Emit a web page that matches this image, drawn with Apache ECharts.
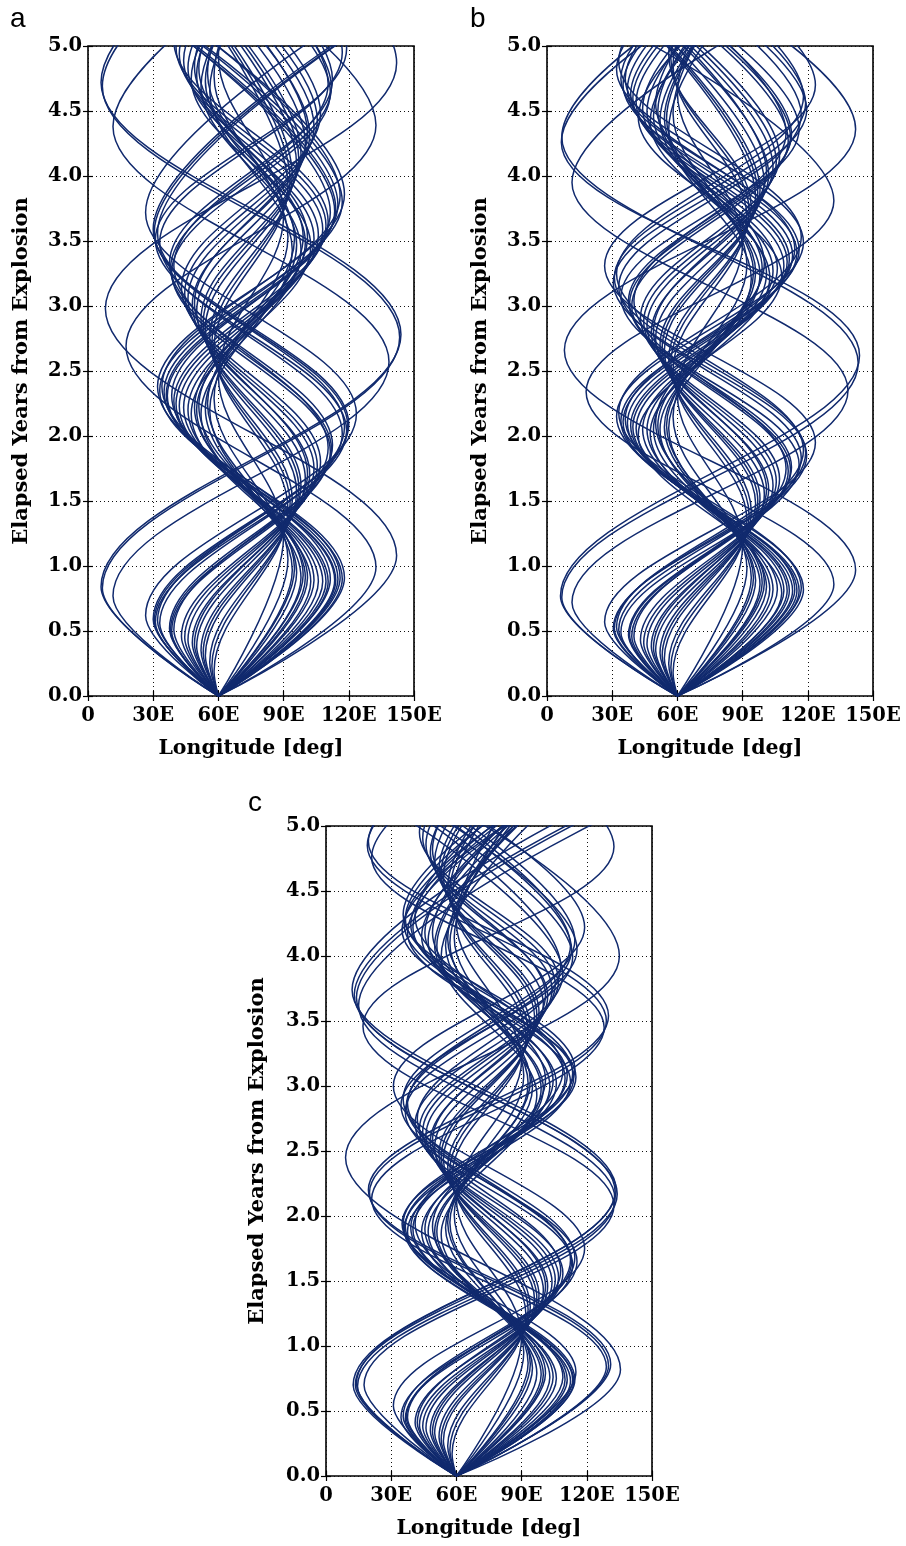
<!DOCTYPE html>
<html>
<head>
<meta charset="utf-8">
<title>Elapsed years vs longitude</title>
<script src="https://cdn.jsdelivr.net/npm/echarts@6/dist/echarts.min.js"></script>
<style>
  html, body { margin: 0; padding: 0; background: #fff; }
  #chart { width: 906px; height: 1546px; }
</style>
</head>
<body>
<div id="chart"></div>
<script>
// axis ticks
const lonTicks = [0, 30, 60, 90, 120, 150];
const lonTickLabels = ['0', '30E', '60E', '90E', '120E', '150E'];
const yearTicks = [0, 0.5, 1, 1.5, 2, 2.5, 3, 3.5, 4, 4.5, 5];
const yearTickLabels = ['0.0', '0.5', '1.0', '1.5', '2.0', '2.5', '3.0', '3.5', '4.0', '4.5', '5.0'];
const panelLetters = ['a', 'b', 'c'];

// every trajectory starts at the explosion point
const origin = [60, 0];

// turning points [lon, years] of each trajectory
const panelA = [
    [[6, 0.84], [144, 2.78], [6, 4.72], [144, 6.66]],
    [[6.6, 0.83], [143.4, 2.76], [6.6, 4.69], [143.4, 6.62]],
    [[11.5, 0.77], [138.5, 2.57], [11.5, 4.38], [138.5, 6.19]],
    [[26.5, 0.62], [123.5, 2.17], [26.5, 3.72], [123.5, 5.27]],
    [[30, 0.59], [120, 2.09], [30, 3.59], [120, 5.09]],
    [[30.5, 0.58], [119.5, 2.08], [30.5, 3.57], [119.5, 5.07]],
    [[31, 0.57], [119, 2.04], [31, 3.51], [119, 4.98], [31, 6.45]],
    [[32, 0.58], [118, 2.07], [32, 3.56], [118, 5.05]],
    [[33, 0.56], [117, 2.02], [33, 3.49], [117, 4.95], [33, 6.42]],
    [[37.5, 0.52], [112.5, 1.93], [37.5, 3.33], [112.5, 4.74], [37.5, 6.15]],
    [[38, 0.51], [112, 1.9], [38, 3.29], [112, 4.68], [38, 6.07]],
    [[38.5, 0.5], [111.5, 1.88], [38.5, 3.26], [111.5, 4.64], [38.5, 6.02]],
    [[39.5, 0.51], [110.5, 1.91], [39.5, 3.31], [110.5, 4.71], [39.5, 6.1]],
    [[43, 0.46], [107, 1.8], [43, 3.14], [107, 4.48], [43, 5.83]],
    [[44.5, 0.45], [105.5, 1.77], [44.5, 3.1], [105.5, 4.43], [44.5, 5.76]],
    [[46, 0.43], [104, 1.75], [46, 3.06], [104, 4.38], [46, 5.7]],
    [[48, 0.41], [102, 1.71], [48, 3.01], [102, 4.32], [48, 5.62]],
    [[49, 0.4], [101, 1.71], [49, 3.02], [101, 4.33], [49, 5.64]],
    [[50, 0.38], [100, 1.67], [50, 2.96], [100, 4.25], [50, 5.54]],
    [[52, 0.35], [98, 1.62], [52, 2.9], [98, 4.17], [52, 5.44]],
    [[53, 0.33], [97, 1.6], [53, 2.87], [97, 4.13], [53, 5.4]],
    [[54, 0.31], [96, 1.57], [54, 2.83], [96, 4.09], [54, 5.35]],
    [[56, 0.26], [94, 1.51], [56, 2.76], [94, 4.01], [56, 5.26]],
    [[57, 0.23], [93, 1.48], [57, 2.72], [93, 3.97], [57, 5.21]],
    [[58, 0.19], [92, 1.44], [58, 2.68], [92, 3.92], [58, 5.16]],
    [[142, 1.08], [8, 2.98], [142, 4.87], [8, 6.77]],
    [[132.5, 0.99], [17.5, 2.69], [132.5, 4.39], [17.5, 6.08]],
    [[118, 0.91], [32, 2.38], [118, 3.86], [32, 5.33]],
    [[117, 0.9], [33, 2.35], [117, 3.8], [33, 5.25]],
    [[116, 0.91], [34, 2.38], [116, 3.85], [34, 5.32]],
    [[115, 0.9], [35, 2.34], [115, 3.78], [35, 5.22]],
    [[114, 0.89], [36, 2.32], [114, 3.75], [36, 5.17]],
    [[113.5, 0.89], [36.5, 2.31], [113.5, 3.73], [36.5, 5.15]],
    [[111.5, 0.9], [38.5, 2.31], [111.5, 3.72], [38.5, 5.13]],
    [[110.5, 0.88], [39.5, 2.27], [110.5, 3.65], [39.5, 5.04], [110.5, 6.42]],
    [[109.5, 0.88], [40.5, 2.25], [109.5, 3.62], [40.5, 4.99], [109.5, 6.36]],
    [[108, 0.88], [42, 2.23], [108, 3.59], [42, 4.94], [108, 6.29]],
    [[106, 0.88], [44, 2.22], [106, 3.55], [44, 4.89], [106, 6.22]],
    [[104, 0.89], [46, 2.2], [104, 3.52], [46, 4.83], [104, 6.15]],
    [[102.5, 0.88], [47.5, 2.17], [102.5, 3.46], [47.5, 4.75], [102.5, 6.04]],
    [[101, 0.91], [49, 2.22], [101, 3.53], [49, 4.84], [101, 6.15]],
    [[100, 0.91], [50, 2.2], [100, 3.49], [50, 4.78], [100, 6.07]],
    [[99, 0.93], [51, 2.23], [99, 3.53], [51, 4.83], [99, 6.13]],
    [[98, 0.91], [52, 2.17], [98, 3.43], [52, 4.69], [98, 5.95]],
    [[96, 0.95], [54, 2.21], [96, 3.47], [54, 4.73], [96, 5.99]],
    [[95, 0.98], [55, 2.25], [95, 3.52], [55, 4.79], [95, 6.06]],
    [[94, 0.97], [56, 2.2], [94, 3.43], [56, 4.66], [94, 5.89]],
    [[92, 1.05], [58, 2.29], [92, 3.53], [58, 4.77], [92, 6.02]],
    [[90, 1.23], [60, 2.46], [90, 3.69], [60, 4.92], [90, 6.15]]
];

const panelB = [
    [[6.2, 0.77], [143.8, 2.62], [6.6, 4.26], [143.8, 6.0]],
    [[6.8, 0.76], [143.2, 2.56], [6.8, 4.3], [143.2, 6.05]],
    [[11.5, 0.72], [138.5, 2.35], [11.5, 3.95], [138.5, 5.55]],
    [[26.5, 0.57], [123.5, 1.95], [26.5, 3.31], [123.5, 4.7], [26.5, 6.1]],
    [[30.5, 0.52], [119.5, 1.85], [30.5, 3.18], [119.5, 4.51], [30.5, 5.84]],
    [[31, 0.52], [119, 1.87], [31, 3.22], [119, 4.56], [31, 5.91]],
    [[32, 0.53], [118, 1.89], [32, 3.25], [118, 4.61], [32, 5.97]],
    [[33, 0.51], [117, 1.83], [33, 3.15], [117, 4.47], [33, 5.8]],
    [[34, 0.49], [116, 1.78], [34, 3.07], [116, 4.36], [34, 5.65]],
    [[37.5, 0.47], [112.5, 1.76], [37.5, 3.04], [112.5, 4.32], [37.5, 5.6]],
    [[38, 0.47], [112, 1.74], [38, 3.02], [112, 4.3], [38, 5.57]],
    [[39, 0.46], [111, 1.73], [39, 3.0], [111, 4.27], [39, 5.54]],
    [[40, 0.46], [110, 1.75], [40, 3.04], [110, 4.33], [40, 5.62]],
    [[43, 0.43], [107, 1.67], [43, 2.91], [107, 4.15], [43, 5.39]],
    [[44.5, 0.41], [105.5, 1.65], [44.5, 2.88], [105.5, 4.11], [44.5, 5.35]],
    [[46, 0.4], [104, 1.62], [46, 2.85], [104, 4.07], [46, 5.3]],
    [[48, 0.38], [102, 1.59], [48, 2.8], [102, 4.01], [48, 5.23]],
    [[49, 0.37], [101, 1.59], [49, 2.81], [101, 4.03], [49, 5.25]],
    [[50, 0.35], [100, 1.55], [50, 2.75], [100, 3.95], [50, 5.15]],
    [[52, 0.33], [98, 1.52], [52, 2.7], [98, 3.89], [52, 5.08]],
    [[53, 0.31], [97, 1.5], [53, 2.68], [97, 3.87], [53, 5.05]],
    [[54, 0.29], [96, 1.48], [54, 2.66], [96, 3.84], [54, 5.02]],
    [[56, 0.25], [94, 1.42], [56, 2.59], [94, 3.76], [56, 4.93], [94, 6.1]],
    [[57, 0.22], [93, 1.39], [57, 2.56], [93, 3.73], [57, 4.9], [93, 6.06]],
    [[58, 0.18], [92, 1.35], [58, 2.51], [92, 3.68], [58, 4.85], [92, 6.01]],
    [[142, 0.97], [8, 2.66], [142, 4.36], [8, 6.05]],
    [[132, 0.86], [18, 2.34], [132, 3.81], [18, 5.28]],
    [[118, 0.82], [32, 2.15], [118, 3.49], [32, 4.82], [118, 6.15]],
    [[117, 0.83], [33, 2.18], [117, 3.53], [33, 4.88], [117, 6.23]],
    [[116, 0.81], [34, 2.12], [116, 3.43], [34, 4.75], [116, 6.06]],
    [[115, 0.81], [35, 2.11], [115, 3.41], [35, 4.7], [115, 6.0]],
    [[114, 0.82], [36, 2.13], [114, 3.44], [36, 4.75], [114, 6.06]],
    [[113, 0.81], [37, 2.1], [113, 3.39], [37, 4.67], [113, 5.96]],
    [[111.5, 0.81], [38.5, 2.08], [111.5, 3.36], [38.5, 4.63], [111.5, 5.9]],
    [[110.5, 0.81], [39.5, 2.07], [110.5, 3.34], [39.5, 4.6], [110.5, 5.87]],
    [[109, 0.81], [41, 2.06], [109, 3.31], [41, 4.57], [109, 5.82]],
    [[108, 0.79], [42, 2.01], [108, 3.23], [42, 4.45], [108, 5.67]],
    [[106, 0.82], [44, 2.05], [106, 3.29], [44, 4.52], [106, 5.76]],
    [[104, 0.82], [46, 2.05], [104, 3.27], [46, 4.5], [104, 5.72]],
    [[102.5, 0.82], [47.5, 2.02], [102.5, 3.22], [47.5, 4.42], [102.5, 5.62]],
    [[101, 0.84], [49, 2.05], [101, 3.25], [49, 4.46], [101, 5.66]],
    [[100, 0.87], [50, 2.1], [100, 3.33], [50, 4.56], [100, 5.79]],
    [[99, 0.87], [51, 2.08], [99, 3.29], [51, 4.5], [99, 5.71]],
    [[98, 0.86], [52, 2.05], [98, 3.24], [52, 4.43], [98, 5.62]],
    [[96, 0.89], [54, 2.07], [96, 3.26], [54, 4.44], [96, 5.62]],
    [[95, 0.91], [55, 2.08], [95, 3.26], [55, 4.44], [95, 5.61]],
    [[94, 0.91], [56, 2.06], [94, 3.21], [56, 4.36], [94, 5.51]],
    [[92, 0.98], [58, 2.15], [92, 3.32], [58, 4.48], [92, 5.65]],
    [[90, 1.16], [60, 2.32], [90, 3.48], [60, 4.64], [90, 5.8]]
];

const panelC = [
    [[12.5, 0.7], [133.5, 2.2], [12, 3.74], [133, 5.26]],
    [[13.5, 0.7], [134, 2.17], [13, 3.7], [134, 5.2]],
    [[14, 0.71], [133, 2.19], [14, 3.68], [133, 5.17]],
    [[14.5, 0.69], [133, 2.13], [15, 3.62], [133, 5.1]],
    [[17.5, 0.7], [132.5, 2.08], [17, 3.46], [132.5, 4.84], [17, 6.2]],
    [[31, 0.54], [119, 1.75], [31, 3.0], [119, 4.22], [31, 5.45]],
    [[34.5, 0.45], [115.5, 1.65], [34.5, 2.85], [115.5, 4.05], [34.5, 5.25]],
    [[35.5, 0.46], [114.5, 1.68], [35.5, 2.9], [114.5, 4.12], [35.5, 5.34]],
    [[36.5, 0.44], [113.5, 1.62], [36.5, 2.8], [113.5, 3.99], [36.5, 5.17]],
    [[37, 0.45], [113, 1.65], [37, 2.85], [113, 4.05], [37, 5.25]],
    [[37.5, 0.45], [112.5, 1.66], [37.5, 2.87], [112.5, 4.08], [37.5, 5.29]],
    [[41, 0.41], [109, 1.56], [41, 2.71], [109, 3.86], [41, 5.01]],
    [[42, 0.41], [108, 1.58], [42, 2.75], [108, 3.92], [42, 5.09]],
    [[43, 0.39], [107, 1.53], [43, 2.67], [107, 3.81], [43, 4.95], [107, 6.09]],
    [[44.5, 0.38], [105.5, 1.51], [44.5, 2.65], [105.5, 3.78], [44.5, 4.91], [105.5, 6.04]],
    [[46, 0.37], [104, 1.49], [46, 2.62], [104, 3.74], [46, 4.86], [104, 5.99]],
    [[48, 0.35], [102, 1.46], [48, 2.57], [102, 3.69], [48, 4.8], [102, 5.91]],
    [[49, 0.34], [101, 1.46], [49, 2.58], [101, 3.7], [49, 4.82], [101, 5.94]],
    [[50, 0.33], [100, 1.43], [50, 2.53], [100, 3.63], [50, 4.73], [100, 5.84]],
    [[52, 0.3], [98, 1.39], [52, 2.48], [98, 3.57], [52, 4.67], [98, 5.76]],
    [[53, 0.28], [97, 1.37], [53, 2.46], [97, 3.55], [53, 4.64], [97, 5.72]],
    [[54, 0.27], [96, 1.35], [54, 2.44], [96, 3.53], [54, 4.61], [96, 5.7]],
    [[56, 0.23], [94, 1.3], [56, 2.38], [94, 3.45], [56, 4.53], [94, 5.6]],
    [[57, 0.2], [93, 1.28], [57, 2.35], [93, 3.42], [57, 4.5], [93, 5.57]],
    [[58, 0.17], [92, 1.24], [58, 2.31], [92, 3.38], [58, 4.45], [92, 5.52]],
    [[135.5, 0.82], [9, 2.45], [135, 4.0], [9, 5.6]],
    [[131, 0.86], [19.5, 2.2], [130, 3.54], [19.5, 4.88], [130, 6.22]],
    [[130, 0.85], [20, 2.18], [129, 3.5], [19, 4.85], [129, 6.2]],
    [[129, 0.84], [21, 2.13], [128, 3.45], [21, 4.76], [128, 6.07]],
    [[115, 0.8], [35, 1.94], [115, 3.07], [35, 4.2], [115, 5.34]],
    [[114.5, 0.74], [35.5, 1.94], [114.5, 3.13], [35.5, 4.32], [114.5, 5.52]],
    [[114, 0.73], [36, 1.9], [114, 3.07], [36, 4.24], [114, 5.41]],
    [[113.5, 0.74], [36.5, 1.92], [113.5, 3.1], [36.5, 4.29], [113.5, 5.47]],
    [[112.5, 0.73], [37.5, 1.88], [112.5, 3.03], [37.5, 4.18], [112.5, 5.33]],
    [[111, 0.74], [39, 1.91], [111, 3.08], [39, 4.24], [111, 5.41]],
    [[110, 0.74], [40, 1.9], [110, 3.06], [40, 4.22], [110, 5.38]],
    [[109, 0.76], [41, 1.94], [109, 3.12], [41, 4.3], [109, 5.48]],
    [[106, 0.75], [44, 1.88], [106, 3.02], [44, 4.15], [106, 5.29]],
    [[104.5, 0.76], [45.5, 1.9], [104.5, 3.04], [45.5, 4.18], [104.5, 5.32]],
    [[103, 0.76], [47, 1.88], [103, 3.0], [47, 4.12], [103, 5.23]],
    [[101, 0.79], [49, 1.92], [101, 3.05], [49, 4.18], [101, 5.31]],
    [[100, 0.78], [50, 1.88], [100, 2.98], [50, 4.08], [100, 5.19]],
    [[99, 0.78], [51, 1.88], [99, 2.98], [51, 4.08], [99, 5.17]],
    [[97, 0.79], [53, 1.86], [97, 2.93], [53, 4.0], [97, 5.07]],
    [[95, 0.83], [55, 1.91], [95, 2.99], [55, 4.08], [95, 5.16]],
    [[94, 0.86], [56, 1.95], [94, 3.04], [56, 4.13], [94, 5.22]],
    [[93, 0.87], [57, 1.95], [93, 3.02], [57, 4.1], [93, 5.17]],
    [[91, 0.95], [59, 2.01], [91, 3.08], [59, 4.14], [91, 5.2]],
    [[90, 1.07], [60, 2.13], [90, 3.2], [60, 4.26], [90, 5.33]]
];

const lineColor = '#112a6e';
const serif = '"DejaVu Serif", serif';

// where each panel sits on the page
const layout = [
    {left: 88, top: 46, letterX: 10, letterY: 19, yTitleX: 22},
    {left: 547, top: 46, letterX: 470, letterY: 19, yTitleX: 481},
    {left: 326, top: 826, letterX: 248, letterY: 803, yTitleX: 258}
];
const gridW = 326;
const gridH = 650;
const curveSets = [panelA, panelB, panelC];

function tickLabel(ticks, labels) {
    return function (v) {
        for (let i = 0; i < ticks.length; i++) {
            if (Math.abs(ticks[i] - v) < 1e-6) return labels[i];
        }
        return '';
    };
}

function axisBase(i, pos, main) {
    return {
        type: 'value',
        gridIndex: i,
        position: pos,
        axisLine: {show: false},
        axisTick: {show: true, inside: true, length: 5, lineStyle: {color: '#000', width: 1.2}},
        splitLine: {show: main, lineStyle: {color: '#111', width: 1, type: [1, 3]}},
        axisLabel: {
            show: main,
            showMinLabel: true,
            showMaxLabel: true,
            color: '#000',
            fontFamily: serif,
            fontWeight: 'bold',
            fontSize: 19.5
        }
    };
}

let grids = [];
let xAxes = [];
let yAxes = [];
let series = [];
let graphics = [];

layout.forEach(function (p, i) {
    grids.push({
        left: p.left, top: p.top, width: gridW, height: gridH,
        show: true, borderColor: '#000', borderWidth: 1.6, backgroundColor: 'transparent'
    });

    ['bottom', 'top'].forEach(function (pos) {
        let ax = axisBase(i, pos, pos === 'bottom');
        ax.min = lonTicks[0];
        ax.max = lonTicks[lonTicks.length - 1];
        ax.interval = lonTicks[1] - lonTicks[0];
        ax.axisLabel.margin = 10;
        ax.axisLabel.formatter = tickLabel(lonTicks, lonTickLabels);
        xAxes.push(ax);
    });
    ['left', 'right'].forEach(function (pos) {
        let ax = axisBase(i, pos, pos === 'left');
        ax.min = yearTicks[0];
        ax.max = yearTicks[yearTicks.length - 1];
        ax.interval = yearTicks[1] - yearTicks[0];
        ax.axisLabel.margin = 6;
        ax.axisLabel.formatter = tickLabel(yearTicks, yearTickLabels);
        yAxes.push(ax);
    });

    curveSets[i].forEach(function (turns) {
        series.push({
            type: 'line',
            xAxisIndex: i * 2,
            yAxisIndex: i * 2,
            data: [origin].concat(turns),
            smooth: 0.36,
            symbol: 'none',
            silent: true,
            clip: true,
            lineStyle: {color: lineColor, width: 1.5}
        });
    });

    // panel letter and axis titles
    graphics.push({
        type: 'text', x: p.letterX, y: p.letterY,
        style: {text: panelLetters[i], fill: '#000', font: '28px "Liberation Sans", Arial, sans-serif', verticalAlign: 'middle'}
    });
    graphics.push({
        type: 'text', x: p.left + gridW / 2, y: p.top + gridH + 53,
        style: {text: 'Longitude [deg]', fill: '#000', font: 'bold 20.5px ' + serif, align: 'center', verticalAlign: 'middle'}
    });
    graphics.push({
        type: 'text', x: p.yTitleX, y: p.top + gridH / 2, rotation: Math.PI / 2,
        style: {text: 'Elapsed Years from Explosion', fill: '#000', font: 'bold 21px ' + serif, align: 'center', verticalAlign: 'middle'}
    });
});

let myChart = echarts.init(document.getElementById('chart'), null, {renderer: 'canvas'});
myChart.setOption({
    animation: false,
    backgroundColor: '#fff',
    grid: grids,
    xAxis: xAxes,
    yAxis: yAxes,
    series: series,
    graphic: graphics
});
</script>
</body>
</html>
